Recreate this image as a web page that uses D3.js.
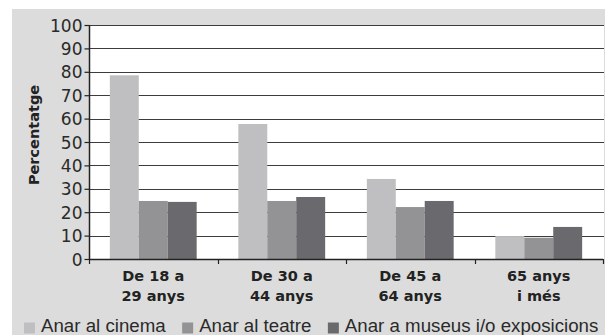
<!DOCTYPE html>
<html>
<head>
<meta charset="utf-8">
<script src="https://cdn.jsdelivr.net/npm/d3@7"></script>
<style>
  html, body { margin: 0; padding: 0; background: #ffffff; }
  svg { display: block; }
</style>
</head>
<body>
<svg id="chart" width="606" height="335"></svg>
<script>
// Age groups (two-line labels) and the share of people doing each activity
const categories = [
  ["De 18 a", "29 anys"],
  ["De 30 a", "44 anys"],
  ["De 45 a", "64 anys"],
  ["65 anys", "i més"]
];
const seriesNames = ["Anar al cinema", "Anar al teatre", "Anar a museus i/o exposicions"];
const cinema = [78.5, 57.7, 34.2, 9.8];
const teatre = [24.8, 24.8, 22.2, 9.1];
const museus = [24.4, 26.5, 24.8, 13.7];
const yTicks = [0, 10, 20, 30, 40, 50, 60, 70, 80, 90, 100];
const yLabel = "Percentatge";

const seriesValues = [cinema, teatre, museus];
const colors = ["#bfbfc1", "#939396", "#6a6a6e"];

const svg = d3.select("#chart");
const W = 606, H = 335;
const plot = { left: 89, right: 604, top: 25, bottom: 259 };

// grey card behind the chart
svg.append("rect")
  .attr("x", 12).attr("y", 9)
  .attr("width", 605 - 12).attr("height", H - 9)
  .attr("fill", "#dcdcdc");

// white plotting area
svg.append("rect")
  .attr("x", plot.left).attr("y", plot.top)
  .attr("width", plot.right - plot.left).attr("height", plot.bottom - plot.top)
  .attr("fill", "#ffffff");

const catKeys = categories.map((c, i) => i);
const x0 = d3.scaleBand().domain(catKeys).range([plot.left, plot.right - 1]).padding(0);
const x1 = d3.scaleBand().domain(d3.range(seriesNames.length))
  .range([0, x0.bandwidth()]).paddingInner(0).paddingOuter(0.72);
const y = d3.scaleLinear().domain([0, 100]).range([plot.bottom, plot.top]);

// horizontal gridlines
svg.append("g")
  .selectAll("line")
  .data(yTicks.filter(t => t > 0))
  .join("line")
  .attr("x1", plot.left).attr("x2", plot.right)
  .attr("y1", d => Math.round(y(d)) + 0.5)
  .attr("y2", d => Math.round(y(d)) + 0.5)
  .attr("stroke", "#3c3c3c")
  .attr("stroke-width", 1.2);

// bars
const groups = svg.append("g")
  .selectAll("g")
  .data(catKeys)
  .join("g")
  .attr("transform", d => `translate(${x0(d)},0)`);

groups.selectAll("rect")
  .data(ci => seriesValues.map((vals, si) => ({ si, v: vals[ci] })))
  .join("rect")
  .attr("x", d => x1(d.si))
  .attr("width", x1.bandwidth())
  .attr("y", d => y(d.v))
  .attr("height", d => y(0) - y(d.v))
  .attr("fill", d => colors[d.si]);

// y axis
const yAxis = svg.append("g")
  .attr("transform", `translate(${plot.left + 0.5},0)`)
  .call(d3.axisLeft(y).tickValues(yTicks).tickSize(5).tickPadding(2).tickFormat(d3.format("d")));
yAxis.select(".domain").attr("stroke", "#222").attr("stroke-width", 1.5)
  .attr("d", `M0,${plot.top}V${plot.bottom + 1}`);
yAxis.selectAll(".tick line").attr("stroke", "#222").attr("stroke-width", 1.2);
yAxis.selectAll(".tick text")
  .attr("fill", "#2a2a2a")
  .style("font-family", "'DejaVu Sans', sans-serif")
  .style("font-size", "17px")
  .attr("dy", "0.36em");

// x axis line with boundary ticks between age groups
const xAxisG = svg.append("g");
xAxisG.append("line")
  .attr("x1", plot.left).attr("x2", plot.right - 1)
  .attr("y1", plot.bottom + 0.5).attr("y2", plot.bottom + 0.5)
  .attr("stroke", "#222").attr("stroke-width", 1.6);
const boundaries = catKeys.map(k => x0(k)).concat([x0(catKeys[catKeys.length - 1]) + x0.bandwidth()]);
xAxisG.selectAll("line.b")
  .data(boundaries)
  .join("line")
  .attr("class", "b")
  .attr("x1", d => Math.round(d) + 0.5).attr("x2", d => Math.round(d) + 0.5)
  .attr("y1", plot.bottom).attr("y2", plot.bottom + 5)
  .attr("stroke", "#222").attr("stroke-width", 1.2);

// category labels
const catText = svg.append("g")
  .selectAll("text")
  .data(catKeys)
  .join("text")
  .attr("x", d => x0(d) + x0.bandwidth() / 2)
  .attr("y", 281)
  .attr("text-anchor", "middle")
  .attr("fill", "#222")
  .style("font-family", "'DejaVu Sans', sans-serif")
  .style("font-weight", "bold")
  .style("font-size", "14.5px");
catText.each(function (d) {
  const t = d3.select(this);
  categories[d].forEach((line, i) => {
    t.append("tspan")
      .attr("x", x0(d) + x0.bandwidth() / 2)
      .attr("dy", i === 0 ? 0 : 19.5)
      .text(line);
  });
});

// y axis title
svg.append("text")
  .attr("transform", `translate(39,${(plot.top + plot.bottom) / 2 - 7}) rotate(-90)`)
  .attr("text-anchor", "middle")
  .attr("fill", "#222")
  .style("font-family", "'DejaVu Sans', sans-serif")
  .style("font-weight", "bold")
  .style("font-size", "14.5px")
  .text(yLabel);

// legend
const legend = svg.append("g");
let lx = 24;
seriesNames.forEach((name, i) => {
  legend.append("rect")
    .attr("x", lx).attr("y", 322.5)
    .attr("width", 11).attr("height", 11)
    .attr("fill", colors[i]);
  const t = legend.append("text")
    .attr("x", lx + 17).attr("y", 331.5)
    .attr("fill", "#2a2a2a")
    .style("font-family", "'Liberation Sans', Arial, sans-serif")
    .style("font-size", "18.7px")
    .text(name);
  lx += 17 + t.node().getComputedTextLength() + 16.5;
});
</script>
</body>
</html>
